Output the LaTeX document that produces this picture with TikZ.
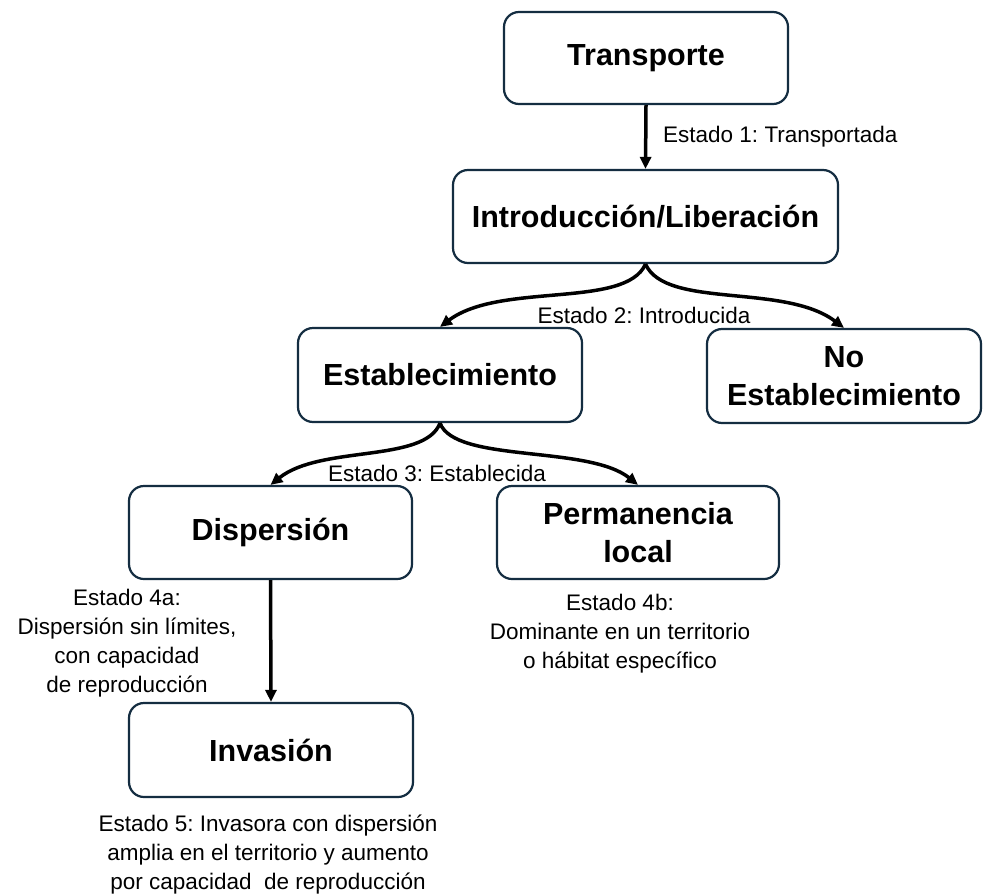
\documentclass[tikz,border=0pt]{standalone}
\usepackage{fontspec}
\setmainfont{Liberation Sans}
\usetikzlibrary{arrows.meta}
\definecolor{boxline}{RGB}{20,45,65}
\frenchspacing
\begin{document}
\begin{tikzpicture}[x=1pt,y=-1pt,
  box/.style={draw=boxline, line width=2.2pt, rounded corners=15pt, fill=white, align=center,
    font=\fontsize{30.5}{38}\selectfont\bfseries, inner sep=0pt},
  lbl/.style={align=center, font=\fontsize{22.5}{29}\selectfont, inner sep=0pt},
  arr/.style={-{Triangle[length=12pt,width=11pt]}, line width=3.5pt, black}]
\useasboundingbox[fill=white] (0,0) rectangle (984,894);
\node[box, minimum width=284pt, minimum height=92pt] (trans) at (646,58) {Transporte};
\node[box, minimum width=385pt, minimum height=93pt] (intro) at (645.5,216.5) {Introducción/Liberación};
\node[box, minimum width=284pt, minimum height=94pt] (estab) at (440,375) {Establecimiento};
\node[box, minimum width=274pt, minimum height=94pt] (noest) at (844,376) {No\\Establecimiento};
\node[box, minimum width=283pt, minimum height=93pt] (disp) at (270.5,532.5) {Dispersión};
\node[box, minimum width=282pt, minimum height=93pt] (perm) at (638,532.5) {Permanencia\\local};
\node[box, minimum width=284pt, minimum height=94pt] (inv) at (271,750) {Invasión};

\draw[arr] (trans.south) -- (intro.north);
\draw[arr] (intro.south) .. controls +(-20,45) and +(60,-45) .. (estab.north);
\draw[arr] (intro.south) .. controls +(20,45) and +(-60,-45) .. (noest.north);
\draw[arr] (estab.south) .. controls +(-15,40) and +(50,-40) .. (disp.north);
\draw[arr] (estab.south) .. controls +(15,40) and +(-50,-40) .. (perm.north);
\draw[arr] (disp.south) -- (inv.north);

\node[lbl, anchor=west] (l1) at (663,137) {Estado 1: Transportada};
\node[lbl] (l2) at (644,315) {Estado 2: Introducida};
\node[lbl] (l3) at (437,473) {Estado 3: Establecida};
\node[lbl] (l4a) at (127,643) {Estado 4a:\\Dispersión sin límites,\\con capacidad\\de reproducción};
\node[lbl] (l4b) at (620,634) {Estado 4b:\\Dominante en un territorio\\o hábitat específico};
\node[lbl] (l5) at (268,855) {Estado 5: Invasora con dispersión\\amplia en el territorio y aumento\\por capacidad\ \ de reproducción};
\end{tikzpicture}
\end{document}
